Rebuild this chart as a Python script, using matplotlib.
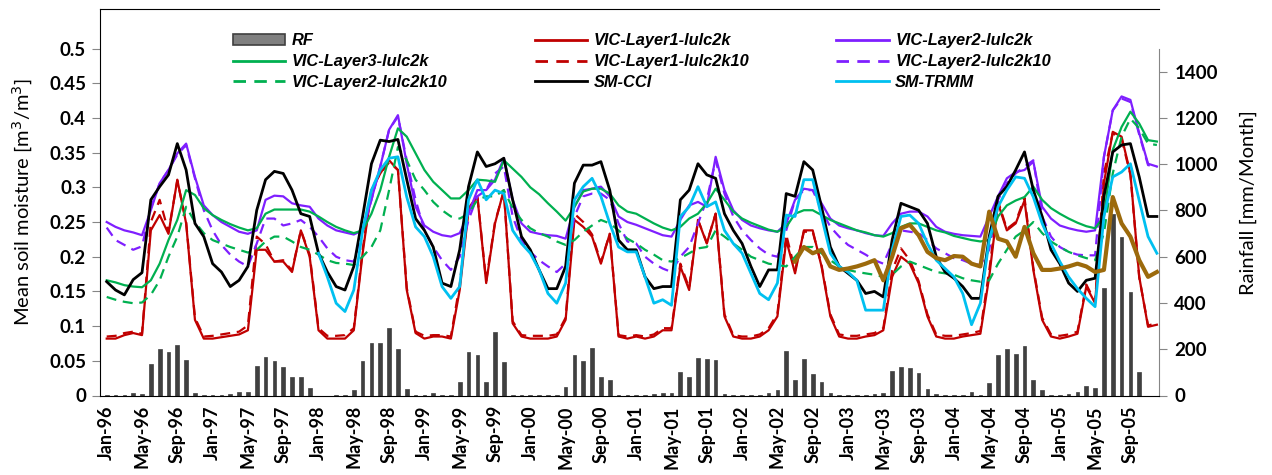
import matplotlib.pyplot as plt
import numpy as np
from matplotlib.patches import Patch
from matplotlib.lines import Line2D

# months Jan-96 .. Dec-05 (index 0..119)
months = np.arange(120)
mon_names = ['Jan', 'Feb', 'Mar', 'Apr', 'May', 'Jun', 'Jul', 'Aug', 'Sep', 'Oct', 'Nov', 'Dec']
tick_idx = np.arange(0, 120, 4)
tick_labels = ['%s-%02d' % (mon_names[i % 12], (96 + i // 12) % 100) for i in tick_idx]

# monthly rainfall [mm/month]
rf = [3, 3, 3, 12, 7, 135, 202, 187, 217, 153, 10, 2,
      2, 2, 7, 16, 13, 128, 166, 148, 124, 82, 82, 32,
      0, 0, 3, 3, 23, 150, 226, 229, 291, 199, 29, 2,
      2, 10, 2, 3, 60, 187, 174, 60, 274, 144, 3, 2,
      2, 2, 2, 2, 36, 177, 151, 204, 79, 69, 2, 2,
      2, 2, 7, 10, 10, 102, 79, 160, 157, 153, 7, 2,
      2, 2, 2, 10, 24, 194, 66, 158, 94, 58, 10, 3,
      3, 3, 3, 7, 9, 107, 124, 118, 96, 27, 7, 3,
      3, 3, 14, 3, 53, 174, 199, 179, 212, 66, 23, 2,
      3, 5, 14, 43, 32, 465, 785, 687, 448, 101, 0, 0]

l1_2k = [0.082, 0.082, 0.087, 0.090, 0.087, 0.238, 0.260, 0.233, 0.311, 0.248, 0.109, 0.082,
         0.082, 0.084, 0.086, 0.088, 0.094, 0.210, 0.210, 0.193, 0.193, 0.178, 0.238, 0.200,
         0.094, 0.082, 0.082, 0.082, 0.094, 0.205, 0.296, 0.320, 0.339, 0.325, 0.152, 0.090,
         0.082, 0.085, 0.085, 0.082, 0.152, 0.267, 0.287, 0.162, 0.248, 0.296, 0.104, 0.085,
         0.082, 0.082, 0.082, 0.085, 0.109, 0.253, 0.243, 0.229, 0.190, 0.233, 0.085, 0.082,
         0.085, 0.082, 0.085, 0.094, 0.094, 0.186, 0.152, 0.253, 0.219, 0.262, 0.114, 0.085,
         0.082, 0.082, 0.085, 0.094, 0.114, 0.224, 0.176, 0.238, 0.238, 0.186, 0.114, 0.085,
         0.082, 0.082, 0.085, 0.087, 0.094, 0.171, 0.200, 0.190, 0.162, 0.114, 0.085, 0.082,
         0.082, 0.085, 0.087, 0.089, 0.171, 0.277, 0.238, 0.248, 0.281, 0.181, 0.109, 0.085,
         0.082, 0.085, 0.089, 0.157, 0.133, 0.306, 0.380, 0.373, 0.320, 0.171, 0.099, 0.102]

l1_2k10 = [0.085, 0.086, 0.090, 0.092, 0.089, 0.250, 0.282, 0.236, 0.310, 0.250, 0.112, 0.085,
           0.086, 0.088, 0.090, 0.092, 0.101, 0.229, 0.218, 0.193, 0.195, 0.180, 0.238, 0.203,
           0.097, 0.086, 0.086, 0.087, 0.097, 0.210, 0.298, 0.320, 0.336, 0.325, 0.155, 0.092,
           0.086, 0.087, 0.087, 0.085, 0.160, 0.270, 0.287, 0.165, 0.250, 0.294, 0.107, 0.087,
           0.086, 0.086, 0.086, 0.088, 0.112, 0.262, 0.250, 0.232, 0.192, 0.233, 0.087, 0.085,
           0.087, 0.085, 0.088, 0.097, 0.097, 0.190, 0.155, 0.253, 0.220, 0.262, 0.117, 0.087,
           0.085, 0.085, 0.088, 0.097, 0.118, 0.232, 0.180, 0.236, 0.236, 0.188, 0.117, 0.088,
           0.086, 0.086, 0.088, 0.090, 0.097, 0.180, 0.212, 0.195, 0.165, 0.117, 0.088, 0.086,
           0.086, 0.088, 0.090, 0.093, 0.180, 0.280, 0.240, 0.250, 0.285, 0.184, 0.112, 0.088,
           0.086, 0.088, 0.092, 0.160, 0.135, 0.320, 0.378, 0.370, 0.318, 0.170, 0.101, 0.104]

l2_2k = [0.250, 0.243, 0.238, 0.235, 0.231, 0.267, 0.306, 0.325, 0.349, 0.363, 0.315, 0.274,
         0.260, 0.250, 0.243, 0.236, 0.233, 0.238, 0.282, 0.288, 0.287, 0.277, 0.274, 0.272,
         0.255, 0.245, 0.238, 0.235, 0.232, 0.238, 0.282, 0.330, 0.383, 0.404, 0.334, 0.272,
         0.245, 0.236, 0.231, 0.229, 0.234, 0.262, 0.296, 0.296, 0.311, 0.342, 0.282, 0.248,
         0.236, 0.233, 0.231, 0.230, 0.226, 0.272, 0.296, 0.298, 0.301, 0.287, 0.258, 0.250,
         0.246, 0.241, 0.236, 0.231, 0.229, 0.253, 0.274, 0.279, 0.272, 0.344, 0.296, 0.267,
         0.253, 0.245, 0.241, 0.238, 0.236, 0.248, 0.282, 0.298, 0.296, 0.277, 0.255, 0.245,
         0.241, 0.238, 0.234, 0.231, 0.230, 0.248, 0.262, 0.265, 0.265, 0.258, 0.243, 0.236,
         0.233, 0.231, 0.230, 0.229, 0.258, 0.287, 0.313, 0.322, 0.325, 0.337, 0.272, 0.255,
         0.245, 0.241, 0.238, 0.236, 0.238, 0.344, 0.411, 0.431, 0.426, 0.378, 0.334, 0.330]

l2_2k10 = [0.242, 0.224, 0.217, 0.210, 0.215, 0.270, 0.306, 0.325, 0.347, 0.361, 0.313, 0.267,
           0.238, 0.217, 0.203, 0.193, 0.186, 0.219, 0.255, 0.255, 0.245, 0.248, 0.253, 0.243,
           0.229, 0.212, 0.200, 0.195, 0.193, 0.238, 0.282, 0.330, 0.383, 0.402, 0.339, 0.282,
           0.238, 0.214, 0.195, 0.181, 0.200, 0.253, 0.287, 0.296, 0.320, 0.330, 0.258, 0.224,
           0.207, 0.195, 0.186, 0.178, 0.190, 0.258, 0.287, 0.291, 0.291, 0.282, 0.248, 0.222,
           0.219, 0.200, 0.190, 0.183, 0.178, 0.200, 0.214, 0.248, 0.282, 0.339, 0.291, 0.258,
           0.238, 0.224, 0.212, 0.203, 0.200, 0.238, 0.282, 0.296, 0.296, 0.267, 0.243, 0.229,
           0.217, 0.210, 0.203, 0.195, 0.190, 0.219, 0.238, 0.236, 0.234, 0.224, 0.212, 0.205,
           0.198, 0.195, 0.190, 0.188, 0.210, 0.282, 0.306, 0.320, 0.330, 0.339, 0.258, 0.229,
           0.214, 0.207, 0.203, 0.202, 0.202, 0.344, 0.411, 0.428, 0.423, 0.376, 0.332, 0.330]

l3_2k = [0.166, 0.163, 0.159, 0.157, 0.156, 0.166, 0.190, 0.224, 0.253, 0.296, 0.289, 0.270,
         0.260, 0.253, 0.247, 0.242, 0.238, 0.241, 0.262, 0.268, 0.268, 0.268, 0.268, 0.265,
         0.258, 0.250, 0.243, 0.238, 0.234, 0.238, 0.262, 0.296, 0.344, 0.385, 0.373, 0.349,
         0.325, 0.308, 0.296, 0.284, 0.284, 0.296, 0.311, 0.310, 0.308, 0.339, 0.327, 0.315,
         0.300, 0.290, 0.277, 0.265, 0.252, 0.272, 0.294, 0.298, 0.298, 0.291, 0.274, 0.265,
         0.262, 0.255, 0.248, 0.242, 0.238, 0.243, 0.255, 0.262, 0.277, 0.298, 0.282, 0.265,
         0.255, 0.249, 0.244, 0.239, 0.236, 0.243, 0.262, 0.267, 0.267, 0.260, 0.253, 0.248,
         0.243, 0.238, 0.235, 0.231, 0.229, 0.234, 0.243, 0.248, 0.248, 0.243, 0.238, 0.235,
         0.230, 0.227, 0.224, 0.222, 0.224, 0.258, 0.274, 0.281, 0.286, 0.301, 0.282, 0.270,
         0.262, 0.255, 0.249, 0.244, 0.241, 0.258, 0.354, 0.387, 0.409, 0.392, 0.368, 0.366]

l2_2k10_green = [0.142, 0.138, 0.135, 0.133, 0.134, 0.145, 0.166, 0.200, 0.229, 0.272, 0.250, 0.234,
                 0.224, 0.219, 0.214, 0.210, 0.206, 0.210, 0.222, 0.229, 0.229, 0.222, 0.214, 0.210,
                 0.203, 0.195, 0.191, 0.190, 0.188, 0.200, 0.214, 0.238, 0.296, 0.358, 0.339, 0.311,
                 0.296, 0.279, 0.267, 0.258, 0.255, 0.262, 0.282, 0.287, 0.287, 0.296, 0.270, 0.253,
                 0.241, 0.234, 0.229, 0.222, 0.217, 0.224, 0.236, 0.245, 0.253, 0.248, 0.238, 0.226,
                 0.219, 0.210, 0.203, 0.195, 0.193, 0.198, 0.205, 0.212, 0.214, 0.238, 0.229, 0.219,
                 0.210, 0.200, 0.195, 0.190, 0.188, 0.186, 0.200, 0.214, 0.214, 0.205, 0.195, 0.186,
                 0.181, 0.178, 0.176, 0.174, 0.171, 0.174, 0.186, 0.193, 0.188, 0.183, 0.178, 0.176,
                 0.174, 0.169, 0.166, 0.164, 0.166, 0.190, 0.210, 0.229, 0.238, 0.250, 0.234, 0.222,
                 0.214, 0.207, 0.202, 0.198, 0.195, 0.234, 0.320, 0.373, 0.399, 0.385, 0.363, 0.361]

sm_cci = [0.164, 0.152, 0.145, 0.167, 0.177, 0.282, 0.301, 0.318, 0.363, 0.325, 0.248, 0.229,
          0.190, 0.178, 0.157, 0.166, 0.186, 0.267, 0.311, 0.323, 0.320, 0.296, 0.262, 0.258,
          0.205, 0.178, 0.157, 0.152, 0.186, 0.258, 0.334, 0.368, 0.366, 0.369, 0.311, 0.255,
          0.238, 0.214, 0.162, 0.157, 0.210, 0.301, 0.351, 0.330, 0.334, 0.342, 0.282, 0.229,
          0.210, 0.181, 0.154, 0.154, 0.186, 0.306, 0.332, 0.332, 0.337, 0.296, 0.224, 0.210,
          0.210, 0.171, 0.154, 0.157, 0.157, 0.282, 0.296, 0.334, 0.318, 0.313, 0.262, 0.238,
          0.219, 0.186, 0.157, 0.181, 0.181, 0.291, 0.287, 0.337, 0.325, 0.272, 0.214, 0.186,
          0.176, 0.166, 0.147, 0.150, 0.142, 0.224, 0.277, 0.272, 0.267, 0.248, 0.200, 0.178,
          0.169, 0.157, 0.140, 0.140, 0.229, 0.287, 0.301, 0.325, 0.351, 0.296, 0.258, 0.210,
          0.190, 0.162, 0.150, 0.166, 0.169, 0.287, 0.351, 0.361, 0.363, 0.315, 0.258, 0.258]

# SM-TRMM starts Jan-98 (index 24)
trmm_start = 24
sm_trmm = [0.205, 0.171, 0.133, 0.121, 0.152, 0.238, 0.296, 0.325, 0.342, 0.344, 0.286, 0.243,
           0.229, 0.200, 0.157, 0.140, 0.157, 0.282, 0.311, 0.282, 0.296, 0.291, 0.238, 0.219,
           0.205, 0.181, 0.147, 0.133, 0.162, 0.282, 0.301, 0.313, 0.287, 0.248, 0.214, 0.207,
           0.207, 0.171, 0.133, 0.138, 0.130, 0.258, 0.272, 0.301, 0.272, 0.279, 0.238, 0.219,
           0.205, 0.176, 0.147, 0.138, 0.162, 0.260, 0.258, 0.311, 0.311, 0.258, 0.205, 0.186,
           0.178, 0.166, 0.123, 0.123, 0.123, 0.210, 0.258, 0.260, 0.248, 0.219, 0.195, 0.183,
           0.171, 0.147, 0.102, 0.133, 0.224, 0.272, 0.296, 0.315, 0.313, 0.286, 0.248, 0.219,
           0.193, 0.171, 0.154, 0.140, 0.128, 0.258, 0.315, 0.322, 0.334, 0.281, 0.229, 0.205]

# unlabelled brown series, starts Jul-02 (index 78)
brown_start = 78
brown = [0.193, 0.214, 0.205, 0.210, 0.186, 0.181, 0.183, 0.186, 0.190, 0.195, 0.166, 0.200,
         0.241, 0.246, 0.231, 0.207, 0.198, 0.195, 0.201, 0.200, 0.190, 0.186, 0.265, 0.226,
         0.222, 0.200, 0.243, 0.205, 0.181, 0.181, 0.183, 0.186, 0.190, 0.186, 0.178, 0.181,
         0.286, 0.248, 0.229, 0.195, 0.171, 0.178]

plt.rcParams['font.family'] = ['Lato', 'DejaVu Sans']

fig = plt.figure(figsize=(12.72, 4.75), dpi=100)
ax = fig.add_axes([100 / 1272, 79.5 / 475, 1059 / 1272, 386.5 / 475])
ax2 = ax.twinx()

# rainfall bars on the secondary axis (drawn underneath)
ax2.bar(months, rf, width=0.42, color='#404040', edgecolor='#404040', linewidth=0.5)
ax2.set_ylim(0, 1500 * 0.557 / 0.5)
ax2.set_yticks(np.arange(0, 1401, 200))
ax2.spines['right'].set_bounds(0, 1500)
ax2.spines['right'].set_color('#868686')
for s in ['top', 'left', 'bottom']:
    ax2.spines[s].set_visible(False)

ax.set_zorder(ax2.get_zorder() + 1)
ax.patch.set_visible(False)

red = '#C00000'
purple = '#7F1FFF'
green = '#00B050'
cyan = '#00C0F0'
brown_c = '#9C6A0C'
dash = (0, (4.5, 3))

ax.plot(months, l1_2k, color=red, lw=1.6)
ax.plot(months, l1_2k10, color=red, lw=1.6, ls=dash)
ax.plot(months, l2_2k, color=purple, lw=1.6)
ax.plot(months, l2_2k10, color=purple, lw=1.6, ls=dash)
ax.plot(months, l3_2k, color=green, lw=1.6)
ax.plot(months, l2_2k10_green, color=green, lw=1.6, ls=dash)
ax.plot(months, sm_cci, color='black', lw=2.0)
ax.plot(months[trmm_start:], sm_trmm, color=cyan, lw=2.0)
ax.plot(months[brown_start:], brown, color=brown_c, lw=3.0)

ax.set_xlim(-0.76, 119.24)
ax.set_ylim(0, 0.557)
ax.set_yticks(np.arange(0, 0.501, 0.05))
ax.set_yticklabels(['0'] + ['%g' % v for v in np.arange(0.05, 0.501, 0.05)])
ax.set_xticks(tick_idx)
ax.set_xticklabels(tick_labels, rotation=90)
ax.spines['right'].set_visible(False)

ax.tick_params(axis='x', length=0, pad=7, labelsize=13)
ax.tick_params(axis='y', length=6, color='#868686', labelsize=13.5, pad=4)
ax2.tick_params(axis='y', length=6, color='#868686', labelsize=13.5, pad=5)
for lab in ax.get_xticklabels() + ax.get_yticklabels() + ax2.get_yticklabels():
    lab.set_fontweight('bold')

ax.set_ylabel('Mean soil moisture [m$^3$/m$^3$]', fontsize=14.5, labelpad=10)
ax2.set_ylabel('Rainfall [mm/Month]', fontsize=14.5, labelpad=16)

handles = [Patch(facecolor='#808080', edgecolor='#404040', linewidth=1.2),
           Line2D([], [], color=green, lw=2),
           Line2D([], [], color=green, lw=2, ls=dash),
           Line2D([], [], color=red, lw=2),
           Line2D([], [], color=red, lw=2, ls=dash),
           Line2D([], [], color='black', lw=2),
           Line2D([], [], color=purple, lw=2),
           Line2D([], [], color=purple, lw=2, ls=dash),
           Line2D([], [], color=cyan, lw=2)]
labels = ['RF', 'VIC-Layer3-lulc2k', 'VIC-Layer2-lulc2k10',
          'VIC-Layer1-lulc2k', 'VIC-Layer1-lulc2k10', 'SM-CCI',
          'VIC-Layer2-lulc2k', 'VIC-Layer2-lulc2k10', 'SM-TRMM']
ax.legend(handles, labels, ncol=3, loc='upper left', bbox_to_anchor=(0.1256, 0.937),
          frameon=False, borderpad=0, borderaxespad=0, handlelength=3.2,
          handletextpad=0.4, columnspacing=5.3, labelspacing=0.36,
          prop={'family': 'Liberation Sans', 'weight': 'bold', 'style': 'italic', 'size': 11.8})

fig.savefig('out.png', dpi=100)
